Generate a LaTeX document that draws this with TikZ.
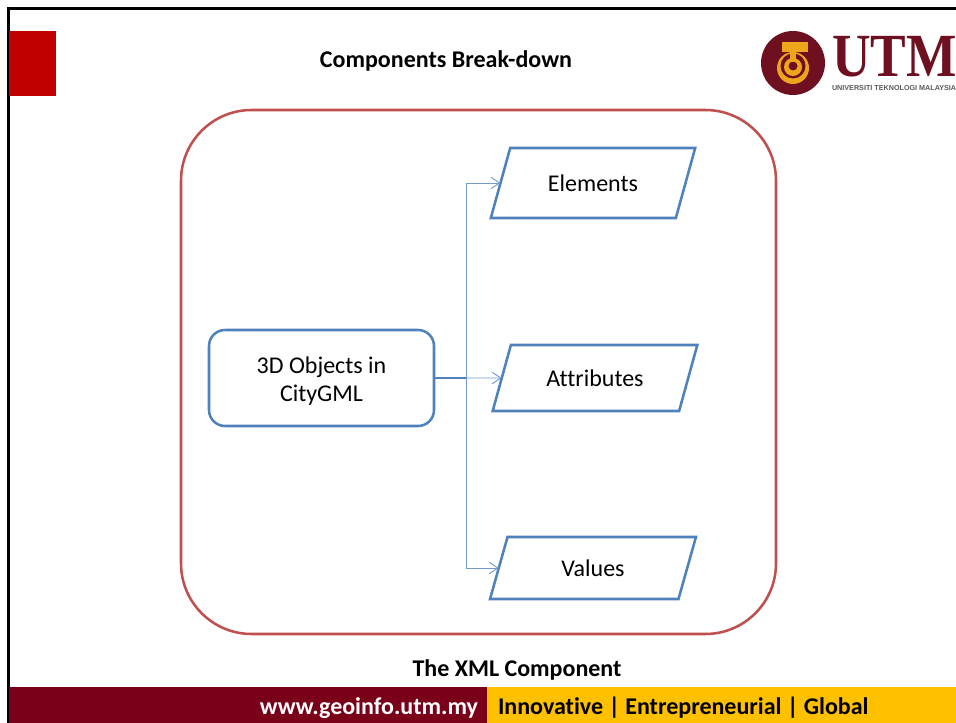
\documentclass[tikz,border=0pt]{standalone}
\usepackage{fontspec}
\usepackage{xcolor}
\usetikzlibrary{positioning,shapes.geometric,arrows.meta}
\setmainfont[Ligatures=NoCommon]{Carlito}
\newfontfamily\logoserif{Liberation Serif}
\newfontfamily\logosans{Liberation Sans}
\definecolor{utmmaroon}{HTML}{7A0019}
\definecolor{utmgold}{HTML}{FFC000}
\definecolor{utmred}{HTML}{C00000}
\definecolor{frameline}{HTML}{C0504D}
\definecolor{boxline}{HTML}{4F81BD}
\definecolor{logodark}{HTML}{6E1020}
\definecolor{logogold}{HTML}{EDA51C}

\begin{document}
\begin{tikzpicture}[%
    x=0.75pt,
    y=-0.75pt,
    ->,
    shorten >=0pt,
    >={Straight Barb[length=6.5pt,width=8.5pt]},
    plain/.style={%
      inner sep=0pt,
      outer sep=0pt,
      font=\fontsize{18}{21}\selectfont
    },
    heading/.style={%
      plain,
      font=\fontsize{18}{21}\selectfont\bfseries
    },
    data/.style={%
      plain,
      trapezium,
      trapezium stretches=true,
      trapezium left angle=58,
      trapezium right angle=122,
      minimum width=154.5pt,
      draw=boxline,
      line width=1.9pt
    },
    link/.style={%
      draw=boxline!80,
      line width=0.7pt
    }
  ]
    \useasboundingbox (0,0) rectangle (956,723);
    \begin{scope}[-]
      \path[clip] (0,0) rectangle (956,723);
      % slide furniture
      \draw[black,line width=2.3pt] (8.5,723) -- (8.5,8.5) -- (956,8.5);
      \fill[utmred] (9,31) rectangle (56,96);
      \fill[utmmaroon] (9,687) rectangle (487,723);
      \fill[utmgold] (487,687) rectangle (956,723);
      % logo
      \fill[logodark] (793,63) circle [radius=32];
      \fill[logogold] (793,68) circle [radius=16];
      \fill[logodark] (793,66) circle [radius=12.5];
      \fill[logogold] (793,67) circle [radius=9];
      \fill[logodark] (793,66) circle [radius=4.5];
      \fill[logogold] (782,42) rectangle (808,52);
      \fill[logogold] (790,52) rectangle (796,62);
      \node[plain,font=\logoserif\bfseries\fontsize{46}{46}\selectfont,text=logodark,
        anchor=base west,xscale=0.87,text depth=0pt,text height=30pt] (utm) at (832,77) {UTM};
      \node[plain,font=\logosans\bfseries\fontsize{5.4}{6}\selectfont,text=black!65,
        anchor=base west] (utmname) at (832,91) {UNIVERSITI TEKNOLOGI MALAYSIA};
    \end{scope}

    \node[heading] (title) at (446,61) {Components Break-down};
    \node[heading] (caption) at (517,670) {The XML Component};
    \node[heading,text=white,anchor=east] (web) at (478,708) {www.geoinfo.utm.my};
    \node[heading,anchor=west] (motto) at (498,708) {Innovative | Entrepreneurial | Global};

    \draw[-,frameline,line width=1.9pt,rounded corners=53pt] (181,110) rectangle (776,634);

    \node[plain,draw=boxline,line width=1.9pt,rounded corners=12pt,align=center,
      minimum width=168.75pt,minimum height=72pt] (objects) at (321.5,378)
      {\rule{0pt}{17pt}3D Objects in\\CityGML};
    \node[data,minimum height=52.5pt] (elements) at (593,183)   {Elements};
    \node[data,minimum height=49.5pt] (attributes) at (595,378) {Attributes};
    \node[data,minimum height=46.5pt,trapezium left angle=69,trapezium right angle=111] (values) at (593,568) {Values};

    \coordinate (branch) at (466,378);
    \draw[-,boxline,line width=1pt] (objects.east) -- (branch);
    \draw[link] (branch) |- (elements.west);
    \draw[link] (branch) -- (attributes.west);
    \draw[link] (branch) |- (values.west);
\end{tikzpicture}
\end{document}
